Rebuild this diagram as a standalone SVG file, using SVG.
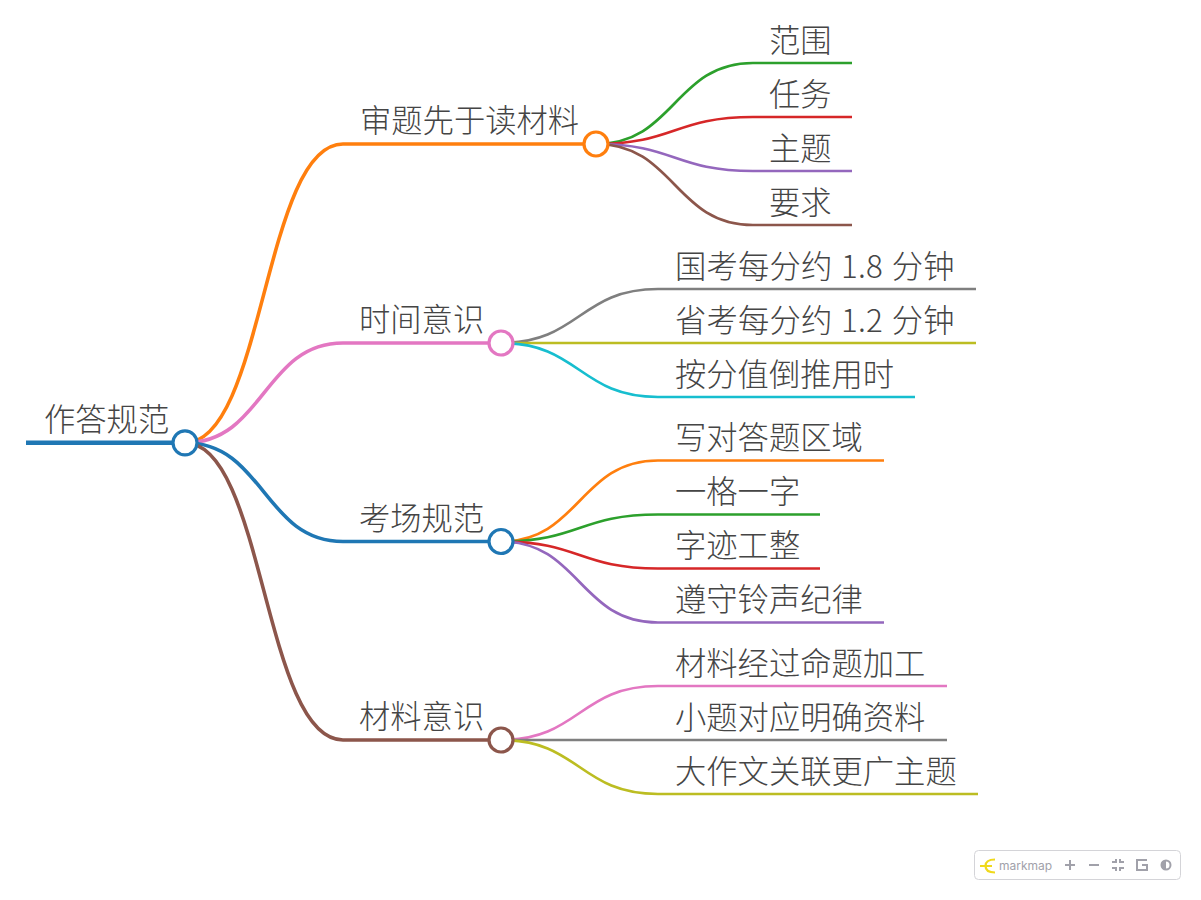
<svg xmlns="http://www.w3.org/2000/svg" width="1201" height="900" viewBox="0 0 1201 900">
<style>
text{font-family:"Noto Sans CJK SC","Noto Sans CJK JP",sans-serif;font-size:31.300px;font-weight:300;fill:#454545}
.c{fill:none;stroke-linecap:butt}
.w2{stroke-width:2.700}
.w1{stroke-width:3.600}
circle{fill:#fff;stroke-width:3.200}
.b{stroke:#1f77b4}.o{stroke:#ff7f0e}.g{stroke:#2ca02c}.r{stroke:#d62728}.p{stroke:#9467bd}.n{stroke:#8c564b}.k{stroke:#e377c2}.y{stroke:#7f7f7f}.l{stroke:#bcbd22}.t{stroke:#17becf}
</style>
<rect width="1201" height="900" fill="#fff"/>
<g id="connectors">
<path class="c b" stroke-width="4.600" d="M26 442.800H185"/>
<path class="c o w1" d="M185 442.800C264 442.800 264 144 343 144H596"/>
<path class="c k w1" d="M185 442.800C264 442.800 264 343 343 343H501"/>
<path class="c b w1" d="M185 442.800C264 442.800 264 541.500 343 541.500H501"/>
<path class="c n w1" d="M185 442.800C264 442.800 264 740 343 740H501"/>
<path class="c g w2" d="M596 144C674.500 144 674.500 63 753 63H852"/>
<path class="c r w2" d="M596 144C674.500 144 674.500 117 753 117H852"/>
<path class="c p w2" d="M596 144C674.500 144 674.500 171 753 171H852"/>
<path class="c n w2" d="M596 144C674.500 144 674.500 225 753 225H852"/>
<path class="c y w2" d="M501 343C579.500 343 579.500 289 658 289H976"/>
<path class="c l w2" d="M501 343C579.500 343 579.500 343 658 343H976"/>
<path class="c t w2" d="M501 343C579.500 343 579.500 397 658 397H915"/>
<path class="c o w2" d="M501 541.500C579.500 541.500 579.500 460.500 658 460.500H884"/>
<path class="c g w2" d="M501 541.500C579.500 541.500 579.500 514.500 658 514.500H820"/>
<path class="c r w2" d="M501 541.500C579.500 541.500 579.500 568.500 658 568.500H820"/>
<path class="c p w2" d="M501 541.500C579.500 541.500 579.500 622.500 658 622.500H884"/>
<path class="c k w2" d="M501 740C579.500 740 579.500 686 658 686H947"/>
<path class="c y w2" d="M501 740C579.500 740 579.500 740 658 740H947"/>
<path class="c l w2" d="M501 740C579.500 740 579.500 794 658 794H978"/>
</g>
<g id="root"><text x="44" y="431">作答规范</text><circle class="b" cx="185" cy="442.800" r="12"/></g>
<g id="n1"><text x="360" y="132">审题先于读材料</text><circle class="o" cx="596" cy="144" r="12"/></g>
<g id="n2"><text x="359" y="331">时间意识</text><circle class="k" cx="501" cy="343" r="12"/></g>
<g id="n3"><text x="359" y="530">考场规范</text><circle class="b" cx="501" cy="541.500" r="12"/></g>
<g id="n4"><text x="359" y="728">材料意识</text><circle class="n" cx="501" cy="740" r="12"/></g>
<g id="n1-1"><text x="769" y="52">范围</text></g>
<g id="n1-2"><text x="769" y="106">任务</text></g>
<g id="n1-3"><text x="769" y="160">主题</text></g>
<g id="n1-4"><text x="769" y="214">要求</text></g>
<g id="n2-1"><text x="675" y="278" word-spacing="1.500" letter-spacing="0.200">国考每分约 1.8 分钟</text></g>
<g id="n2-2"><text x="675" y="332" word-spacing="1.500" letter-spacing="0.200">省考每分约 1.2 分钟</text></g>
<g id="n2-3"><text x="675" y="386">按分值倒推用时</text></g>
<g id="n3-1"><text x="675" y="449">写对答题区域</text></g>
<g id="n3-2"><text x="675" y="503">一格一字</text></g>
<g id="n3-3"><text x="675" y="557">字迹工整</text></g>
<g id="n3-4"><text x="675" y="611">遵守铃声纪律</text></g>
<g id="n4-1"><text x="675" y="675">材料经过命题加工</text></g>
<g id="n4-2"><text x="675" y="729">小题对应明确资料</text></g>
<g id="n4-3"><text x="675" y="783">大作文关联更广主题</text></g>
<g id="toolbar">
<rect x="974.500" y="850.500" width="206" height="29" rx="4" fill="#fff" stroke="#d4d4d8"/>
<path d="M980 866H992M995 859.500C988 859.500 985.500 862 985.500 866C985.500 870 988 872.500 995 872.500" fill="none" stroke="#f0d91c" stroke-width="2.200"/>
<text x="999" y="870" style="font-family:Inter,sans-serif;font-size:12px;font-weight:400;fill:#a1a1aa">markmap</text>
<path d="M1065 865H1075M1070 860V870M1089 865H1099" stroke="#a1a1aa" stroke-width="2" fill="none"/>
<path d="M1112 862H1116V859M1120 859V862H1124M1112 868H1116V871M1120 871V868H1124" stroke="#a1a1aa" stroke-width="2" fill="none"/>
<path d="M1147 860H1137V870H1147V865H1142" stroke="#a1a1aa" stroke-width="2" fill="none"/>
<circle cx="1166" cy="865" r="4.500" style="fill:#fff;stroke:#a1a1aa;stroke-width:2"/>
<path d="M1166 860A5 5 0 0 0 1166 870Z" fill="#a1a1aa"/>
</g>
</svg>
